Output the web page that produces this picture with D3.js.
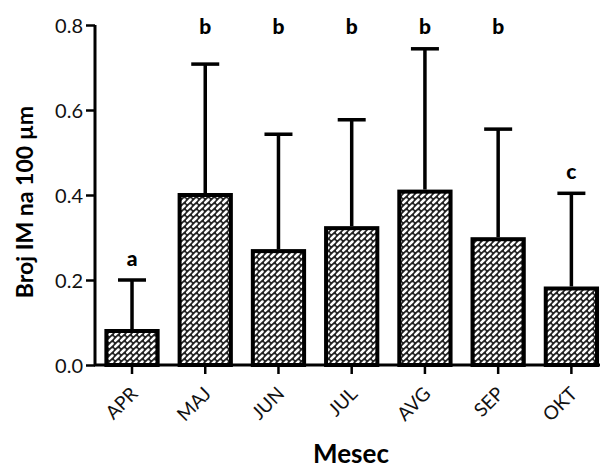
<!DOCTYPE html>
<html><head><meta charset="utf-8">
<script src="https://cdn.jsdelivr.net/npm/d3@7"></script>
<style>body{margin:0;background:#fff}svg{display:block}</style>
</head><body><svg id="c" width="600" height="468"></svg>
<script>
const categories = ["APR","MAJ","JUN","JUL","AVG","SEP","OKT"];
const means = [0.08, 0.40, 0.268, 0.322, 0.408, 0.296, 0.18];
const errTop = [0.20, 0.708, 0.543, 0.577, 0.744, 0.555, 0.404];
const letters = ["a","b","b","b","b","b","c"];
const yTicks = [0.0, 0.2, 0.4, 0.6, 0.8];

const svg = d3.select("#c");
const font = "Lato, 'Open Sans', sans-serif";
const defs = svg.append("defs");
const pat = defs.append("pattern").attr("id","hatch").attr("patternUnits","userSpaceOnUse")
  .attr("width",6).attr("height",6);
pat.append("rect").attr("width",6).attr("height",6).attr("fill","#222");
pat.append("line").attr("x1",1.3).attr("y1",4.7).attr("x2",4.5).attr("y2",1.5)
  .attr("stroke","#fff").attr("stroke-width",2.5).attr("stroke-linecap","round");

const x = d3.scaleBand().domain(categories).range([95.4, 608]).paddingInner(0.30).paddingOuter(0.15);
const y = d3.scaleLinear().domain([0,0.8]).range([365,25]);

// bars
svg.selectAll("rect.bar").data(categories).join("rect").attr("class","bar")
  .attr("x", d=>x(d)).attr("width", x.bandwidth())
  .attr("y", (d,i)=>y(means[i])).attr("height",(d,i)=>y(0)-y(means[i]))
  .attr("fill","url(#hatch)").attr("stroke","#000").attr("stroke-width",4);

// error bars
const cx = d=>x(d)+x.bandwidth()/2;
svg.selectAll("line.err").data(categories).join("line").attr("class","err")
  .attr("x1",cx).attr("x2",cx).attr("y1",(d,i)=>y(means[i])-2).attr("y2",(d,i)=>y(errTop[i]))
  .attr("stroke","#000").attr("stroke-width",3.5);
svg.selectAll("line.cap").data(categories).join("line").attr("class","cap")
  .attr("x1",d=>cx(d)-14).attr("x2",d=>cx(d)+14).attr("y1",(d,i)=>y(errTop[i])).attr("y2",(d,i)=>y(errTop[i]))
  .attr("stroke","#000").attr("stroke-width",3.5);

// letters
svg.selectAll("text.lt").data(categories).join("text").attr("class","lt")
  .attr("x",cx).attr("y",(d,i)=> letters[i]==="b" ? 34 : y(errTop[i])-14)
  .attr("text-anchor","middle").attr("font-family",font).attr("font-weight","900")
  .attr("font-size",21).text((d,i)=>letters[i]);

// y axis
const ya = svg.append("g").attr("transform","translate(95,0)")
  .call(d3.axisLeft(y).tickValues(yTicks).tickFormat(d3.format(".1f")).tickSize(9).tickPadding(3));
ya.select(".domain").attr("stroke-width",3).attr("d","M0,"+y(0.8)+"V"+y(0));
ya.selectAll(".tick line").attr("stroke-width",2.5);
ya.selectAll(".tick text").attr("font-family",font).attr("font-size",20).attr("fill","#111").attr("dy","0.35em");

// x axis
const xa = svg.append("g").attr("transform","translate(0,365)")
  .call(d3.axisBottom(x).tickSize(9).tickSizeOuter(0));
xa.select(".domain").attr("stroke-width",3).attr("d","M94,0H600");
xa.selectAll(".tick line").attr("stroke-width",2.5);
xa.selectAll(".tick text").attr("font-family",font).attr("font-size",19).attr("fill","#111")
  .attr("text-anchor","end").attr("dy",null).attr("y",null)
  .attr("transform","translate(7,30) rotate(-45)");

// titles
svg.append("text").attr("transform","translate(33,202) rotate(-90)").attr("text-anchor","middle")
  .attr("font-family",font).attr("font-weight","bold").attr("font-size",23).text("Broj IM na 100 µm");
svg.append("text").attr("x",351).attr("y",463).attr("text-anchor","middle")
  .attr("font-family",font).attr("font-weight","bold").attr("font-size",26).text("Mesec");
</script></body></html>
